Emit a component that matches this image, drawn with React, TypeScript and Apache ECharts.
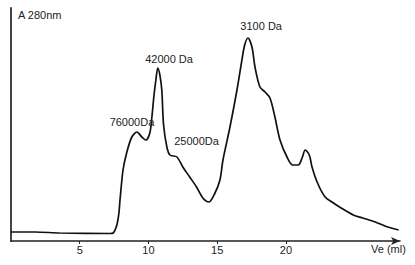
import React, { useEffect, useRef } from "react";
import * as echarts from "echarts";

const veMl = [0, 1.75, 3.55, 7.2, 7.43, 7.7, 7.85, 7.93, 8.15, 8.43, 8.79, 9.16, 9.52, 9.81, 10.1, 10.25, 10.39, 10.54, 10.68, 10.83, 10.97, 11.1, 11.34, 11.56, 12.07, 12.5, 13.0, 13.5, 13.96, 14.4, 14.84, 15.2, 15.42, 15.93, 16.44, 16.8, 17.0, 17.24, 17.53, 17.75, 18.11, 18.48, 18.84, 19.2, 19.57, 20.08, 20.5, 20.9, 21.2, 21.4, 21.7, 21.9, 22.3, 22.85, 23.35, 23.9, 24.9, 25.6, 26.5, 27.4, 28.2];
const absorbance = [9, 9, 8, 7.5, 8, 16, 28, 41, 71, 89, 104, 109, 104, 101, 108, 124, 144, 161, 173, 166, 151, 116, 94, 86, 84, 74, 64, 54, 43, 39, 48, 61, 81, 114, 151, 181, 196, 203, 194, 174, 154, 149, 143, 124, 101, 84, 76, 76, 84, 91, 86, 74, 58, 44, 39, 34, 26, 23, 19, 14, 11];
const tickValues = [5, 10, 15, 20];
const peakLabels = ["76000Da", "42000 Da", "25000Da", "3100 Da"];
const peakLabelX = [8.8, 11.5, 13.5, 18.2];
const peakLabelY = [119, 182, 100, 215];

export default function App() {
  const ref = useRef<HTMLDivElement>(null);
  useEffect(() => {
    if (!ref.current) return;
    const chart = echarts.init(ref.current, null, { renderer: "svg" });
    const font = "'Liberation Sans', Arial, sans-serif";
    chart.setOption({
      animation: false,
      backgroundColor: "#ffffff",
      grid: { left: 11, right: 15, top: 8, bottom: 24 },
      xAxis: {
        type: "value",
        min: 0,
        max: 28.3,
        interval: 5,
        axisLine: {
          show: true,
          lineStyle: { color: "#222", width: 1.5 },
          symbol: ["none", "arrow"],
          symbolSize: [6, 9],
        },
        axisTick: { show: true, length: 3, customValues: tickValues, lineStyle: { color: "#222" } },
        axisLabel: {
          customValues: tickValues,
          margin: 3,
          color: "#222",
          fontSize: 11,
          fontFamily: font,
        },
        splitLine: { show: false },
      },
      yAxis: {
        type: "value",
        min: 0,
        max: 233,
        axisLine: { show: true, lineStyle: { color: "#444", width: 2 } },
        axisTick: { show: false },
        axisLabel: { show: false },
        splitLine: { show: false },
      },
      series: [
        {
          type: "line",
          data: veMl.map((x, i) => [x, absorbance[i]]),
          smooth: 0.3,
          showSymbol: false,
          lineStyle: { color: "#111", width: 1.7 },
          markPoint: {
            symbol: "circle",
            symbolSize: 0,
            itemStyle: { color: "transparent" },
            label: {
              show: true,
              position: "inside",
              color: "#222",
              fontSize: 11,
              fontFamily: font,
              formatter: (p: any) => p.name,
            },
            data: peakLabels.map((n, i) => ({ name: n, coord: [peakLabelX[i], peakLabelY[i]] })),
          },
        },
      ],
      graphic: [
        {
          type: "text",
          left: 18,
          top: 9,
          style: { text: "A 280nm", fill: "#222", fontSize: 11, fontFamily: font },
        },
        {
          type: "text",
          left: 371,
          top: 243,
          style: { text: "Ve (ml)", fill: "#222", fontSize: 11, fontFamily: font },
        },
      ],
    });
    return () => chart.dispose();
  }, []);
  return (
    <div
      ref={ref}
      style={{ position: "fixed", left: 0, top: 0, width: 415, height: 265, background: "#fff" }}
    />
  );
}
